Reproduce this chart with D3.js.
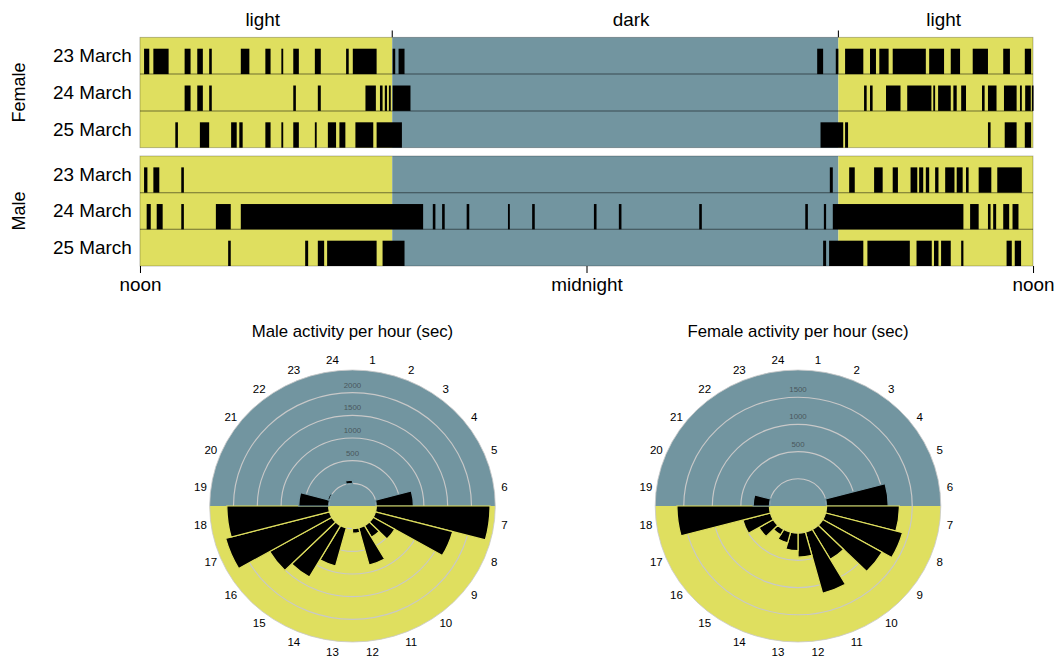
<!DOCTYPE html>
<html>
<head>
<meta charset="utf-8">
<script src="https://cdn.jsdelivr.net/npm/d3@7"></script>
<style>
  body { margin: 0; background: #fff; }
  svg { display: block; font-family: 'Liberation Sans', Arial, sans-serif; }
</style>
</head>
<body>
<div id="container"></div>
<script>
// ---------- data ----------
const days = ['23 March', '24 March', '25 March']
const phaseLabels = ['light', 'dark', 'light']
const axisLabels = ['noon', 'midnight', 'noon']
const axisHours = [0, 12, 24]
const lightsOff = 6.78   // hours after noon
const lightsOn = 18.77

// activity bouts, [start, end] in hours after noon, one list per day
const femaleBouts = [
  [[0.11, 0.25], [0.36, 0.77], [1.20, 1.36], [1.54, 1.69], [1.86, 1.93], [2.71, 2.94], [3.37, 3.51],
   [3.80, 3.85], [4.12, 4.27], [4.70, 4.86], [5.54, 5.61], [5.72, 6.36], [6.79, 6.86], [6.95, 7.11],
   [18.20, 18.36], [18.70, 18.77], [18.95, 19.44], [19.62, 19.78], [19.87, 20.12], [20.23, 21.12],
   [21.21, 21.61], [21.79, 22.04], [22.38, 22.79], [23.20, 23.38], [23.78, 23.95]],
  [[1.20, 1.36], [1.54, 1.69], [1.86, 1.93], [4.12, 4.19], [4.78, 4.86], [6.06, 6.34], [6.45, 6.52],
   [6.58, 6.64], [6.69, 6.74], [6.79, 7.27], [19.46, 19.53], [19.62, 19.69], [20.05, 20.44],
   [20.62, 21.27], [21.32, 21.37], [21.45, 21.79], [21.86, 21.95], [22.07, 22.20], [22.63, 22.70],
   [22.79, 23.02], [23.22, 23.56], [23.65, 23.70], [23.79, 23.94], [23.97, 24.0]],
  [[0.95, 1.02], [1.61, 1.86], [2.45, 2.60], [2.67, 2.76], [3.37, 3.51], [3.80, 3.85], [4.12, 4.27],
   [4.70, 4.75], [5.05, 5.27], [5.36, 5.52], [5.79, 6.27], [6.36, 7.04], [18.29, 18.90], [18.95, 19.03],
   [22.79, 22.86], [23.24, 23.56], [23.78, 23.95]]
]
const maleBouts = [
  [[0.11, 0.20], [0.36, 0.52], [1.11, 1.18], [18.54, 18.62], [19.06, 19.21], [19.73, 19.96],
   [20.23, 20.37], [20.71, 20.89], [20.94, 21.05], [21.12, 21.21], [21.37, 21.46], [21.64, 21.89],
   [21.95, 22.11], [22.20, 22.27], [22.54, 22.88], [23.04, 23.70]],
  [[0.18, 0.29], [0.45, 0.61], [1.11, 1.18], [2.04, 2.44], [2.71, 7.61], [7.87, 7.94], [8.12, 8.19],
   [8.78, 8.85], [9.89, 9.94], [10.54, 10.61], [12.20, 12.27], [12.87, 12.94], [15.03, 15.10],
   [17.88, 17.95], [18.38, 18.44], [18.62, 22.13], [22.31, 22.54], [22.79, 22.86], [22.93, 23.01],
   [23.20, 23.36], [23.45, 23.61]],
  [[2.37, 2.44], [4.44, 4.52], [4.78, 4.95], [5.03, 6.36], [6.52, 7.11], [18.36, 18.44], [18.52, 19.44],
   [19.55, 20.69], [20.87, 21.28], [21.34, 21.46], [21.53, 21.79], [22.07, 22.13], [23.29, 23.43],
   [23.51, 23.68]]
]

// seconds of activity in each clock hour (1..24)
const hourLabels = [1, 2, 3, 4, 5, 6, 7, 8, 9, 10, 11, 12, 13, 14, 15, 16, 17, 18, 19, 20, 21, 22, 23, 24]
const maleActivity = [0, 0, 0, 0, 0, 780, 2390, 1680, 525, 295, 850, 100, 0, 870, 1310, 1510, 2260, 2140, 630, 40, 0, 0, 0, 70]
const femaleActivity = [0, 0, 0, 0, 0, 1080, 1275, 1395, 1200, 630, 1160, 440, 320, 200, 110, 290, 500, 1620, 285, 0, 0, 0, 0, 0]
const maleRings = [0, 500, 1000, 1500, 2000]
const femaleRings = [0, 500, 1000, 1500]

// ---------- layout ----------
const width = 1056
const height = 657
const stretch = 1.05 // the whole figure is a little wider than tall
const yellow = '#dfdf5f'
const blue = '#7295a0'

const svg = d3.select('#container').append('svg')
    .attr('width', width)
    .attr('height', height)
const root = svg.append('g').attr('transform', `scale(${stretch},1)`)

const x = d3.scaleLinear().domain([0, 24]).range([133.3, 983.8])

const phases = [[0, lightsOff], [lightsOff, lightsOn], [lightsOn, 24]]
const phaseLabelX = [3.3, 13.2, 21.6] // label positions, hours after noon

function drawPanel(bouts, top, bottom, label) {
  const y = d3.scaleBand().domain(days).range([top, bottom])
  const g = root.append('g')

  g.selectAll('rect.phase')
    .data(phases)
    .join('rect')
    .attr('class', 'phase')
    .attr('x', d => x(d[0]))
    .attr('width', d => x(d[1]) - x(d[0]))
    .attr('y', top)
    .attr('height', bottom - top)
    .attr('fill', (d, i) => i === 1 ? blue : yellow)

  // bars for each day
  days.forEach((day, i) => {
    g.append('g')
      .selectAll('rect')
      .data(bouts[i])
      .join('rect')
      .attr('x', d => x(d[0]))
      .attr('width', d => Math.max(x(d[1]) - x(d[0]), 1.6))
      .attr('y', y(day) + y.bandwidth() * 0.31)
      .attr('height', y.bandwidth() * 0.69)
      .attr('fill', '#000')
  })

  // row separators
  g.selectAll('line.sep')
    .data(days.slice(1))
    .join('line')
    .attr('x1', x(0)).attr('x2', x(24))
    .attr('y1', d => y(d)).attr('y2', d => y(d))
    .attr('stroke', 'rgba(0,0,0,0.5)')
    .attr('stroke-width', 1)

  g.append('rect')
    .attr('x', x(0)).attr('y', top)
    .attr('width', x(24) - x(0)).attr('height', bottom - top)
    .attr('fill', 'none')
    .attr('stroke', 'rgba(0,0,0,0.3)')
    .attr('stroke-width', 0.8)

  g.selectAll('text.day')
    .data(days)
    .join('text')
    .attr('x', 125.5)
    .attr('y', d => y(d) + y.bandwidth() / 2 + 6.5)
    .attr('text-anchor', 'end')
    .style('font-size', '18px')
    .text(d => d)

  const mid = (top + bottom) / 2
  g.append('text')
    .attr('transform', `translate(24,${mid})rotate(-90)`)
    .attr('text-anchor', 'middle')
    .style('font-size', '18px')
    .text(label)
}

drawPanel(femaleBouts, 37.3, 147.7, 'Female')
drawPanel(maleBouts, 156, 266, 'Male')

// light / dark labels and ticks on top
root.selectAll('text.phase')
  .data(phaseLabels)
  .join('text')
  .attr('x', (d, i) => x(phaseLabelX[i]))
  .attr('y', 26.5)
  .attr('text-anchor', 'middle')
  .style('font-size', '18px')
  .text(d => d)

root.selectAll('line.switch')
  .data([lightsOff, lightsOn])
  .join('line')
  .attr('x1', d => x(d)).attr('x2', d => x(d))
  .attr('y1', 30.5).attr('y2', 37.3)
  .attr('stroke', '#000')

// bottom axis
const bottomAxis = root.append('g')
    .attr('transform', 'translate(0,266)')
    .call(d3.axisBottom(x)
      .tickValues(axisHours)
      .tickFormat((d, i) => axisLabels[i])
      .tickSize(7)
      .tickPadding(5))
bottomAxis.select('.domain').remove()
bottomAxis.selectAll('text')
  .style('font-size', '18px')
  .style('font-family', "'Liberation Sans', Arial, sans-serif")
  .attr('fill', '#000')

// ---------- rose charts ----------
const angle = d3.scaleBand().domain(hourLabels).range([0, 2 * Math.PI])
const arc = d3.arc()

function drawRose(values, rings, maxVal, cx, cy, title) {
  const R = 136
  const r = d3.scaleLinear().domain([-500, maxVal]).range([0, R])
  const g = root.append('g').attr('transform', `translate(${cx},${cy})`)

  // dark (top) and light (bottom) halves
  g.append('path')
    .attr('d', arc({ innerRadius: 0, outerRadius: R, startAngle: -Math.PI / 2, endAngle: Math.PI / 2 }))
    .attr('fill', blue)
  g.append('path')
    .attr('d', arc({ innerRadius: 0, outerRadius: R, startAngle: Math.PI / 2, endAngle: Math.PI * 1.5 }))
    .attr('fill', yellow)
  g.append('circle')
    .attr('r', R)
    .attr('fill', 'none')
    .attr('stroke', '#c9c9c9')
    .attr('stroke-width', 0.8)

  g.selectAll('circle.ring')
    .data(rings)
    .join('circle')
    .attr('class', 'ring')
    .attr('r', d => r(d))
    .attr('fill', 'none')
    .attr('stroke', '#c8c8c8')
    .attr('stroke-width', 1.1)

  g.selectAll('text.ring')
    .data(rings.filter(d => d > 0))
    .join('text')
    .attr('class', 'ring')
    .attr('x', 0)
    .attr('y', d => -r(d) - 5)
    .attr('text-anchor', 'middle')
    .style('font-size', '7.5px')
    .attr('fill', '#4a585d')
    .text(d => d)

  const bars = hourLabels.map((h, i) => ({ hour: h, value: values[i] })).filter(d => d.value > 0)
  g.selectAll('path.bar')
    .data(bars)
    .join('path')
    .attr('class', 'bar')
    .attr('d', d => arc({
      innerRadius: r(0),
      outerRadius: r(d.value),
      startAngle: angle(d.hour),
      endAngle: angle(d.hour) + angle.bandwidth()
    }))
    .attr('fill', '#000')
    .attr('stroke', d => (d.hour >= 7 && d.hour <= 18) ? yellow : blue)
    .attr('stroke-width', 1.2)

  g.selectAll('text.hour')
    .data(hourLabels)
    .join('text')
    .attr('class', 'hour')
    .attr('x', d => Math.sin(angle(d) + angle.bandwidth() / 2) * 146)
    .attr('y', d => -Math.cos(angle(d) + angle.bandwidth() / 2) * 147 + 4)
    .attr('text-anchor', 'middle')
    .style('font-size', '11px')
    .text(d => d)

  root.append('text')
    .attr('x', cx)
    .attr('y', 337.5)
    .attr('text-anchor', 'middle')
    .style('font-size', '16px')
    .text(title)
}

drawRose(maleActivity, maleRings, 2500, 335.7, 506, 'Male activity per hour (sec)')
drawRose(femaleActivity, femaleRings, 2000, 760, 506, 'Female activity per hour (sec)')
</script>
</body>
</html>
